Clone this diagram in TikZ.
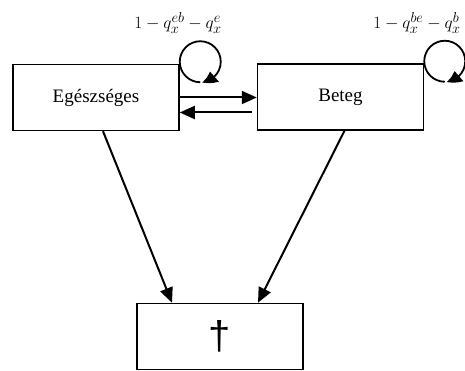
\documentclass[tikz,border=0pt]{standalone}
\usepackage{fontspec}
\setmainfont{Liberation Serif}
\newfontfamily\crossfont{Liberation Sans}
\usetikzlibrary{arrows.meta,positioning,bending}
\tikzset{
  statebox/.style={rectangle,draw=black,line width=1.5pt,minimum width=166pt,minimum height=66pt,inner sep=0pt,
    font=\fontsize{19}{22}\selectfont},
  deadbox/.style={statebox,font=\crossfont\fontsize{40}{42}\selectfont},
  trarrow/.style={-{Triangle[length=15pt,width=13pt]},line width=2pt,draw=black},
  looparrow/.style={-{Triangle[length=14pt,width=13pt,bend]},line width=1.8pt,draw=black},
  problabel/.style={font=\fontsize{19}{22}\selectfont,inner sep=0pt}
}

\begin{document}
\begin{tikzpicture}[x=1pt,y=1pt]
  \useasboundingbox (0,0) rectangle (465,-371);
  \node[statebox] (healthy) at (96,-97.5) {Egészséges};
  \node[statebox] (sick) at (340.5,-97) {Beteg};
  \node[deadbox] (dead) at (220,-336.5) {†};
  \node[problabel] (phealthy) at (178,-23) {$1-q_x^{eb}-q_x^{e}$};
  \node[problabel] (psick) at (417,-23) {$1-q_x^{be}-q_x^{b}$};
  % transitions between the states
  \draw[trarrow] (healthy.east) -- (healthy.east -| sick.west);
  \draw[trarrow,shorten <=5pt] ([yshift=-15pt]healthy.east -| sick.west) -- ([yshift=-15pt]healthy.east);
  \draw[trarrow] ([xshift=7pt]healthy.south) -- ([xshift=-48pt]dead.north);
  \draw[trarrow] ([xshift=4pt]sick.south) -- ([xshift=38pt]dead.north);
  % staying in the same state
  \draw[looparrow] ([shift={(20.5,-18.5)}]healthy.north east) arc[start angle=-90,end angle=-445,radius=20.5];
  \draw[looparrow] ([shift={(20.5,-18.5)}]sick.north east) arc[start angle=-90,end angle=-445,radius=20.5];
\end{tikzpicture}
\end{document}
